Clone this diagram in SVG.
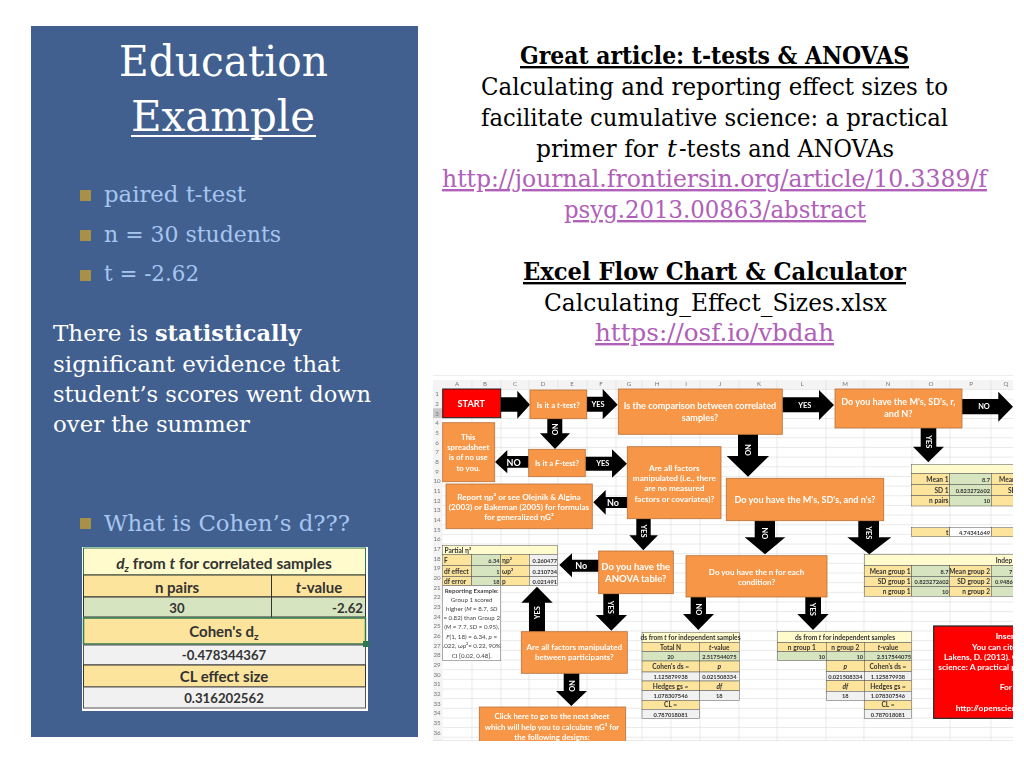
<svg xmlns="http://www.w3.org/2000/svg" width="1024" height="768" viewBox="0 0 1024 768">
<style>
.s{font-family:"DejaVu Serif","Liberation Serif",serif}
.l{font-family:Lato,"Liberation Sans",sans-serif}
.t1{font-size:43px;fill:#fff}
.b{font-size:23px;fill:#a6c6f0}
.w{font-size:23px;fill:#fff}
.k{font-size:24px;fill:#000}
.a{font-size:24px;fill:#b060b8;text-decoration:underline}
.bul{fill:#a99048}
.n{fill:#f79646;stroke:#b9703a;stroke-width:.8}
.nt{font-size:8.2px;font-weight:700;fill:#fff;text-anchor:middle}
.arr{fill:#000}
.al{font-size:7.4px;font-weight:700;fill:#fff;text-anchor:middle;dominant-baseline:central}
.al.big{font-size:9px}
.hd{font-size:6.2px;fill:#777;text-anchor:middle}
.y{fill:#fde49c;stroke:#555;stroke-width:.5}
.lt{fill:#fffbcc;stroke:#555;stroke-width:.5}
.g{fill:#d6e4bf;stroke:#555;stroke-width:.5}
.gr{fill:#f1f1f1;stroke:#555;stroke-width:.5}
.c{font-size:6.6px;font-weight:700;fill:#333;text-anchor:middle}
.cr{font-size:6.6px;font-weight:700;fill:#333;text-anchor:end}
.cl{font-size:6.6px;font-weight:700;fill:#333}
.d{font-size:5.7px}
.rp{font-size:6.2px;fill:#444;text-anchor:middle}
.rd{font-size:8.4px;font-weight:700;fill:#fff}
.y2{fill:#fde49c;stroke:#333;stroke-width:1}
.lt2{fill:#fffbcc;stroke:#2c7a4b;stroke-width:1}
.g2{fill:#d6e4bf;stroke:#333;stroke-width:1}
.gr2{fill:#f1f1f1;stroke:#555;stroke-width:1}
.ct{font-size:15px;font-weight:700;fill:#333;text-anchor:middle}
.ct.m{font-size:13.2px}
#n-start .nt{font-size:9.2px}
#n-ttest .nt,#n-ftest .nt,#n-nouse .nt{font-size:7.8px}
#n-correlated .nt,#n-msr .nt,#n-msn .nt{font-size:9.1px}
#n-anova .nt{font-size:9.5px}
#n-neach .nt,#n-between .nt{font-size:8px}
#n-next .nt{font-size:7.8px}
</style>
<defs>
<pattern id="rows" x="442" y="389" width="20" height="9.66" patternUnits="userSpaceOnUse"><rect width="20" height=".6" fill="#dcdcdc"/></pattern>
<clipPath id="shot"><rect x="433" y="375" width="580" height="366"/></clipPath>
<filter id="soft" x="0" y="0" width="1" height="1"><feGaussianBlur stdDeviation=".28"/></filter>
</defs>
<rect width="1024" height="768" fill="#fff"/>

<g id="panel">
<rect x="31" y="26" width="387" height="711" fill="#41608f"/>
<text class="s t1" x="119" y="76" textLength="209" lengthAdjust="spacingAndGlyphs">Education</text>
<text class="s t1" x="131" y="131" textLength="184" lengthAdjust="spacingAndGlyphs">Example</text>
<rect x="131" y="135" width="185" height="2" fill="#fff"/>
<rect class="bul" x="80" y="190" width="11" height="11"/><text class="s b" x="104" y="202" textLength="142" lengthAdjust="spacingAndGlyphs">paired t-test</text>
<rect class="bul" x="80" y="230" width="11" height="11"/><text class="s b" x="104" y="242" textLength="177" lengthAdjust="spacingAndGlyphs">n = 30 students</text>
<rect class="bul" x="80" y="270" width="11" height="11"/><text class="s b" x="104" y="281" textLength="95" lengthAdjust="spacingAndGlyphs">t = -2.62</text>
<text class="s w" x="53" y="341" textLength="95" lengthAdjust="spacingAndGlyphs">There is</text>
<text class="s w" x="155" y="341" font-weight="700" textLength="146" lengthAdjust="spacingAndGlyphs">statistically</text>
<text class="s w" x="53" y="372" textLength="287" lengthAdjust="spacingAndGlyphs">significant evidence that</text>
<text class="s w" x="53" y="402" textLength="318" lengthAdjust="spacingAndGlyphs">student’s scores went down</text>
<text class="s w" x="53" y="432" textLength="197" lengthAdjust="spacingAndGlyphs">over the summer</text>
<rect class="bul" x="80" y="518" width="11" height="11"/><text class="s b" x="104" y="531" textLength="246" lengthAdjust="spacingAndGlyphs">What is Cohen’s d???</text>
</g>

<g id="cohen-table">
<rect x="82" y="547" width="286" height="164" fill="#fff"/>
<rect class="lt2" x="83.5" y="548" width="282" height="27"/>
<rect class="y2" x="83.5" y="575" width="188" height="22"/><rect class="y2" x="271.5" y="575" width="94" height="22"/>
<rect class="g2" x="83.5" y="597" width="188" height="20"/><rect class="g2" x="271.5" y="597" width="94" height="20"/>
<rect x="83.5" y="618" width="282" height="26" fill="#fde49c" stroke="#2c7a4b" stroke-width="1.5"/>
<rect class="gr2" x="83.5" y="645" width="282" height="20"/>
<rect class="y2" x="83.5" y="665" width="282" height="22"/>
<rect class="gr2" x="83.5" y="687" width="282" height="21"/>
<rect x="363" y="641" width="6" height="6" fill="#2c7a4b"/>
<text class="l ct" x="224" y="569" style="font-size:15.500px"><tspan font-style="italic">d</tspan><tspan font-size="10" dy="3" font-style="italic">z</tspan><tspan dy="-3"> from </tspan><tspan font-style="italic">t</tspan> for correlated samples</text>
<text class="l ct" x="177" y="593">n pairs</text>
<text class="l ct" x="319" y="593"><tspan font-style="italic">t</tspan>-value</text>
<text class="l ct m" x="177" y="613">30</text>
<text class="l ct m" x="363" y="613" style="text-anchor:end">-2.62</text>
<text class="l ct" x="224" y="637">Cohen's d<tspan font-size="10" dy="3">z</tspan></text>
<text class="l ct m" x="224" y="660">-0.478344367</text>
<text class="l ct" x="224" y="682">CL effect size</text>
<text class="l ct m" x="224" y="703">0.316202562</text>
</g>

<g id="article-text">
<text class="s k" x="520" y="64" font-weight="700" textLength="389" lengthAdjust="spacingAndGlyphs" text-decoration="underline">Great article: t-tests &amp; ANOVAS</text>
<text class="s k" x="481" y="95" textLength="467" lengthAdjust="spacingAndGlyphs">Calculating and reporting effect sizes to</text>
<text class="s k" x="481" y="126" textLength="467" lengthAdjust="spacingAndGlyphs">facilitate cumulative science: a practical</text>
<text class="s k" x="536" y="157" textLength="122" lengthAdjust="spacingAndGlyphs">primer for</text>
<text class="s k" x="667" y="157" font-style="italic" textLength="10" lengthAdjust="spacingAndGlyphs">t</text>
<text class="s k" x="679" y="157" textLength="215" lengthAdjust="spacingAndGlyphs">-tests and ANOVAs</text>
<text class="s a" x="442" y="187" textLength="545" lengthAdjust="spacingAndGlyphs">http://journal.frontiersin.org/article/10.3389/f</text>
<text class="s a" x="564" y="218" textLength="302" lengthAdjust="spacingAndGlyphs">psyg.2013.00863/abstract</text>
<text class="s k" x="523" y="280" font-weight="700" textLength="383" lengthAdjust="spacingAndGlyphs" text-decoration="underline">Excel Flow Chart &amp; Calculator</text>
<text class="s k" x="544" y="311" textLength="343" lengthAdjust="spacingAndGlyphs">Calculating_Effect_Sizes.xlsx</text>
<text class="s a" x="595" y="341" textLength="239" lengthAdjust="spacingAndGlyphs">https://osf.io/vbdah</text>
</g>

<g id="flowchart-shot" clip-path="url(#shot)">
<g filter="url(#soft)">
<g id="sheet-grid">
<rect x="433" y="375" width="580" height="366" fill="#fff"/>
<rect x="433" y="380" width="580" height="9" fill="#f4f4f4"/>
<rect x="433" y="389" width="9.7" height="352" fill="#f4f4f4"/>
<rect x="433" y="408.3" width="9.7" height="9.7" fill="#c9c9c9"/>
<rect x="442.7" y="389" width="571" height="352" fill="url(#rows)"/>
<path d="M472 380V741M501 380V741M529 380V741M558 380V741M587 380V741M616 380V741M642 380V741M671 380V741M700 380V741M739 380V741M777 380V741M826 380V741M864 380V741M912 380V741M950 380V741M991 380V741" stroke="#dcdcdc" stroke-width=".6" fill="none"/>
<path d="M433 375H1013M433 741H1013" stroke="#cfcfcf" stroke-width=".8" fill="none"/>
<g class="l">
<text class="hd" x="457" y="386">A</text><text class="hd" x="485" y="386">B</text><text class="hd" x="515" y="386">C</text><text class="hd" x="543" y="386">D</text><text class="hd" x="572" y="386">E</text><text class="hd" x="601" y="386">F</text><text class="hd" x="629" y="386">G</text><text class="hd" x="657" y="386">H</text><text class="hd" x="686" y="386">I</text><text class="hd" x="720" y="386">J</text><text class="hd" x="759" y="386">K</text><text class="hd" x="802" y="386">L</text><text class="hd" x="845" y="386">M</text><text class="hd" x="888" y="386">N</text><text class="hd" x="931" y="386">O</text><text class="hd" x="971" y="386">P</text><text class="hd" x="1006" y="386">Q</text>
<text class="hd" x="437" y="396">1</text><text class="hd" x="437" y="406">2</text><text class="hd" x="437" y="415.500">3</text><text class="hd" x="437" y="425">4</text><text class="hd" x="437" y="435">5</text><text class="hd" x="437" y="444.500">6</text><text class="hd" x="437" y="454">7</text><text class="hd" x="437" y="464">8</text><text class="hd" x="437" y="473.500">9</text><text class="hd" x="437" y="483">10</text><text class="hd" x="437" y="493">11</text><text class="hd" x="437" y="502.500">12</text><text class="hd" x="437" y="512">13</text><text class="hd" x="437" y="522">14</text><text class="hd" x="437" y="531.500">15</text><text class="hd" x="437" y="541">16</text><text class="hd" x="437" y="551">17</text><text class="hd" x="437" y="560.500">18</text><text class="hd" x="437" y="570">19</text><text class="hd" x="437" y="580">20</text><text class="hd" x="437" y="589.500">21</text><text class="hd" x="437" y="599">22</text><text class="hd" x="437" y="609">23</text><text class="hd" x="437" y="618.500">24</text><text class="hd" x="437" y="628">25</text><text class="hd" x="437" y="638">26</text><text class="hd" x="437" y="647.500">27</text><text class="hd" x="437" y="657">28</text><text class="hd" x="437" y="667">29</text><text class="hd" x="437" y="676.500">30</text><text class="hd" x="437" y="686">31</text><text class="hd" x="437" y="696">32</text><text class="hd" x="437" y="705.500">33</text><text class="hd" x="437" y="715">34</text><text class="hd" x="437" y="725">35</text><text class="hd" x="437" y="734.500">36</text>
</g>
</g>

<g id="table-paired" class="l">
<rect class="lt" x="911.700" y="464.300" width="110" height="9.400"/>
<rect class="y" x="911.700" y="473.700" width="38" height="11"/><rect class="g" x="949.700" y="473.700" width="41.600" height="11"/><rect class="y" x="991.300" y="473.700" width="30" height="11"/>
<rect class="y" x="911.700" y="484.700" width="38" height="11"/><rect class="g" x="949.700" y="484.700" width="41.600" height="11"/><rect class="y" x="991.300" y="484.700" width="30" height="11"/>
<rect class="y" x="911.700" y="495.700" width="38" height="10.300"/><rect class="g" x="949.700" y="495.700" width="41.600" height="10.300"/><rect class="y" x="991.300" y="495.700" width="30" height="10.300"/>
<rect class="y" x="911.700" y="527.700" width="38" height="9"/><rect x="949.700" y="527.700" width="41.600" height="9" fill="#fff" stroke="#555" stroke-width=".5"/><rect class="y" x="991.300" y="527.700" width="30" height="9"/>
<text class="cr" x="948.500" y="481.500">Mean 1</text><text class="cr d" x="990" y="481.500">8.7</text><text class="cl" x="999" y="481.500">Mean</text>
<text class="cr" x="948.500" y="492.500">SD 1</text><text class="cr d" x="990" y="492.500">0.823272602</text><text class="cl" x="1008" y="492.500">SD</text>
<text class="cr" x="948.500" y="503">n pairs</text><text class="cr d" x="990" y="503">10</text>
<text class="cr" x="948.500" y="534.500">t</text><text class="cr d" x="990" y="534.500">4.74341649</text>
</g>

<g id="table-independent" class="l">
<rect class="lt" x="864.300" y="554.700" width="160" height="11"/>
<rect class="y" x="864.300" y="565.700" width="47.400" height="11"/><rect class="g" x="911.700" y="565.700" width="38" height="11"/><rect class="y" x="949.700" y="565.700" width="41.600" height="11"/><rect class="g" x="991.300" y="565.700" width="30" height="11"/>
<rect class="y" x="864.300" y="576.700" width="47.400" height="10"/><rect class="g" x="911.700" y="576.700" width="38" height="10"/><rect class="y" x="949.700" y="576.700" width="41.600" height="10"/><rect class="g" x="991.300" y="576.700" width="30" height="10"/>
<rect class="y" x="864.300" y="586.700" width="47.400" height="9.600"/><rect class="g" x="911.700" y="586.700" width="38" height="9.600"/><rect class="y" x="949.700" y="586.700" width="41.600" height="9.600"/><rect class="g" x="991.300" y="586.700" width="30" height="9.600"/>
<text class="cl" x="995.700" y="562.500">Indep</text>
<text class="cr" x="910.500" y="573.500">Mean group 1</text><text class="cr d" x="948.500" y="573.500">8.7</text><text class="cr" x="990" y="573.500">Mean group 2</text><text class="cl d" x="1009" y="573.500">7</text>
<text class="cr" x="910.500" y="584">SD group 1</text><text class="cr d" x="948.900" y="584">0.823272602</text><text class="cr" x="990" y="584">SD group 2</text><text class="cl d" x="995" y="584">0.9486</text>
<text class="cr" x="910.500" y="594">n group 1</text><text class="cr d" x="948.500" y="594">10</text><text class="cr" x="990" y="594">n group 2</text>
</g>

<g id="table-partial" class="l">
<rect class="lt" x="442.700" y="545.700" width="115" height="8.600"/>
<rect class="y" x="442.700" y="554.300" width="29" height="11.400"/><rect class="g" x="471.700" y="554.300" width="29" height="11.400"/><rect class="y" x="500.700" y="554.300" width="28.600" height="11.400"/><rect class="gr" x="529.300" y="554.300" width="28.400" height="11.400"/>
<rect class="y" x="442.700" y="565.700" width="29" height="11"/><rect class="g" x="471.700" y="565.700" width="29" height="11"/><rect class="y" x="500.700" y="565.700" width="28.600" height="11"/><rect class="gr" x="529.300" y="565.700" width="28.400" height="11"/>
<rect class="y" x="442.700" y="576.700" width="29" height="9"/><rect class="g" x="471.700" y="576.700" width="29" height="9"/><rect class="y" x="500.700" y="576.700" width="28.600" height="9"/><rect class="gr" x="529.300" y="576.700" width="28.400" height="9"/>
<rect x="442.700" y="585.700" width="58" height="75" fill="#fff" stroke="#777" stroke-width=".6"/>
<text class="cl" x="444.500" y="552.500">Partial η²</text>
<text class="cl" x="444" y="562.500">F</text><text class="cr d" x="499.500" y="562.500">6.34</text><text class="cl" x="502" y="562.500">ηp²</text><text class="cr d" x="557" y="562.500">0.260477</text>
<text class="cl" x="444" y="573.500">df effect</text><text class="cr d" x="499.500" y="573.500">1</text><text class="cl" x="502" y="573.500">ωp²</text><text class="cr d" x="557" y="573.500">0.210734</text>
<text class="cl" x="444" y="583.500">df error</text><text class="cr d" x="499.500" y="583.500">18</text><text class="cl" x="502" y="583.500">p</text><text class="cr d" x="557" y="583.500">0.021491</text>
<text class="rp" x="471.700" y="593" font-weight="700">Reporting Example:</text>
<text class="rp" x="471.700" y="602">Group 1 scored</text>
<text class="rp" x="471.700" y="611">higher (<tspan font-style="italic">M</tspan> = 8.7, <tspan font-style="italic">SD</tspan></text>
<text class="rp" x="471.700" y="620">= 0.82) than Group 2</text>
<text class="rp" x="471.700" y="629">(<tspan font-style="italic">M</tspan> = 7.7, <tspan font-style="italic">SD</tspan> = 0.95),</text>
<text class="rp" x="471.700" y="638.500"><tspan font-style="italic">F</tspan>(1, 18) = 6.34, <tspan font-style="italic">p</tspan> =</text>
<text class="rp" x="471.700" y="647.500">.022, ωp²= 0.22, 90%</text>
<text class="rp" x="471.700" y="657.500">CI [0.02, 0.48].</text>
</g>

<g id="table-ds-left" class="l">
<rect class="lt" x="642" y="632.300" width="97.300" height="10"/>
<rect class="y" x="642" y="642.300" width="57.300" height="9.400"/><rect class="y" x="699.300" y="642.300" width="40" height="9.400"/>
<rect class="g" x="642" y="651.700" width="57.300" height="9.300"/><rect class="g" x="699.300" y="651.700" width="40" height="9.300"/>
<rect class="y" x="642" y="661" width="57.300" height="11"/><rect class="y" x="699.300" y="661" width="40" height="11"/>
<rect class="gr" x="642" y="672" width="57.300" height="9"/><rect class="gr" x="699.300" y="672" width="40" height="9"/>
<rect class="y" x="642" y="681" width="57.300" height="9.700"/><rect class="y" x="699.300" y="681" width="40" height="9.700"/>
<rect class="gr" x="642" y="690.700" width="57.300" height="9.600"/><rect class="gr" x="699.300" y="690.700" width="40" height="9.600"/>
<rect class="y" x="642" y="700.300" width="57.300" height="9"/><rect class="gr" x="642" y="709.300" width="57.300" height="9.400"/>
<text class="c" x="690.500" y="639.500">ds from <tspan font-style="italic">t</tspan> for independent samples</text>
<text class="c" x="670.600" y="649.500">Total N</text><text class="c" x="719.300" y="649.500"><tspan font-style="italic">t</tspan>-value</text>
<text class="c d" x="670.600" y="658.800">20</text><text class="c d" x="719.300" y="658.800">2.517544075</text>
<text class="c" x="670.600" y="669">Cohen's ds =</text><text class="c" x="719.300" y="669" font-style="italic">p</text>
<text class="c d" x="670.600" y="679">1.125879938</text><text class="c d" x="719.300" y="679">0.021508334</text>
<text class="c" x="670.600" y="688.500">Hedges gs =</text><text class="c" x="719.300" y="688.500" font-style="italic">df</text>
<text class="c d" x="670.600" y="698">1.078307546</text><text class="c d" x="719.300" y="698">18</text>
<text class="c" x="670.600" y="707">CL =</text><text class="c d" x="670.600" y="716.500">0.787018081</text>
</g>

<g id="table-ds-right" class="l">
<rect class="lt" x="777.300" y="631.700" width="134.400" height="11"/>
<rect class="y" x="777.300" y="642.700" width="49" height="9"/><rect class="y" x="826.300" y="642.700" width="38" height="9"/><rect class="y" x="864.300" y="642.700" width="47.400" height="9"/>
<rect class="g" x="777.300" y="651.700" width="49" height="9"/><rect class="g" x="826.300" y="651.700" width="38" height="9"/><rect class="g" x="864.300" y="651.700" width="47.400" height="9"/>
<rect class="y" x="826.300" y="660.700" width="38" height="11"/><rect class="y" x="864.300" y="660.700" width="47.400" height="11"/>
<rect class="gr" x="826.300" y="671.700" width="38" height="9"/><rect class="gr" x="864.300" y="671.700" width="47.400" height="9"/>
<rect class="y" x="826.300" y="680.700" width="38" height="10.600"/><rect class="y" x="864.300" y="680.700" width="47.400" height="10.600"/>
<rect class="gr" x="826.300" y="691.300" width="38" height="9"/><rect class="gr" x="864.300" y="691.300" width="47.400" height="9"/>
<rect class="y" x="864.300" y="700.300" width="47.400" height="9"/><rect class="gr" x="864.300" y="709.300" width="47.400" height="9"/>
<text class="c" x="845" y="640">ds from <tspan font-style="italic">t</tspan> for independent samples</text>
<text class="c" x="801.800" y="650">n group 1</text><text class="c" x="845.300" y="650">n group 2</text><text class="c" x="888" y="650"><tspan font-style="italic">t</tspan>-value</text>
<text class="cr d" x="825" y="659">10</text><text class="cr d" x="863" y="659">10</text><text class="cr d" x="911" y="659">2.517544075</text>
<text class="c" x="845.300" y="669" font-style="italic">p</text><text class="c" x="888" y="669">Cohen's ds =</text>
<text class="c d" x="845.300" y="679">0.021508334</text><text class="c d" x="888" y="679">1.125879938</text>
<text class="c" x="845.300" y="688.500" font-style="italic">df</text><text class="c" x="888" y="688.500">Hedges gs =</text>
<text class="c d" x="845.300" y="698">18</text><text class="c d" x="888" y="698">1.078307546</text>
<text class="c" x="888" y="707">CL =</text><text class="c d" x="888" y="716.500">0.787018081</text>
</g>

<g id="connectors" class="l">
<polygon class="arr" points="500.700,397.300 517.300,397.300 517.300,390.700 530,404.700 517.300,418.700 517.300,411.700 500.700,411.700"/>
<polygon class="arr" points="586.700,396.700 602.700,396.700 602.700,389 617.700,404.700 602.700,419.300 602.700,411.700 586.700,411.700"/>
<text class="al" x="598" y="404.700">YES</text>
<polygon class="arr" points="547.300,418.700 562.300,418.700 562.300,433.300 570,433.300 555,449 540,433.300 547.300,433.300"/>
<text class="al" transform="translate(554 429.300) rotate(90)">NO</text>
<polygon class="arr" points="528.700,456 507.300,456 507.300,450 495,462 507.300,473.300 507.300,467.700 528.700,467.700"/>
<text class="al big" x="513.700" y="462">NO</text>
<polygon class="arr" points="585.300,456.700 612,456.700 612,449.300 627,463.700 612,477.700 612,470.700 585.300,470.700"/>
<text class="al" x="602.700" y="463.700">YES</text>
<polygon class="arr" points="627.300,497 605.700,497 605.700,490 593.300,502.300 605.700,514.700 605.700,508 627.300,508"/>
<text class="al big" x="613" y="502.300">No</text>
<polygon class="arr" points="636.300,518.700 650.700,518.700 650.700,535.300 658,535.300 643.300,550.300 629.300,535.300 636.300,535.300"/>
<text class="al" transform="translate(643.300 531) rotate(90)">YES</text>
<polygon class="arr" points="782.300,397.300 819,397.300 819,390 834,405 819,420 819,412.300 782.300,412.300"/>
<text class="al" x="804.700" y="405">YES</text>
<polygon class="arr" points="962,399 998.300,399 998.300,391.700 1013,406.700 998.300,421.700 998.300,414.300 962,414.300"/>
<text class="al" x="984" y="406.700">NO</text>
<polygon class="arr" points="920.700,428 936.300,428 936.300,446.700 944,446.700 928.300,462.300 913,446.700 920.700,446.700"/>
<text class="al" transform="translate(928.300 441.700) rotate(90)">YES</text>
<polygon class="arr" points="738,434.300 758,434.300 758,456 769,456 748,476.700 726.700,456 738,456"/>
<text class="al" transform="translate(747.300 450) rotate(90)">NO</text>
<polygon class="arr" points="754.700,520.700 775,520.700 775,537.300 785.300,537.300 765,554.300 744.700,537.300 754.700,537.300"/>
<text class="al" transform="translate(764 533.300) rotate(90)">NO</text>
<polygon class="arr" points="858.300,520.700 879,520.700 879,537.300 891.300,537.300 869.300,554.300 847.300,537.300 858.300,537.300"/>
<text class="al" transform="translate(868.300 532.700) rotate(90)">YES</text>
<polygon class="arr" points="598.700,559.700 572,559.700 572,553.300 559.300,565 572,577.300 572,571.700 598.700,571.700"/>
<text class="al big" x="581.300" y="565.300">No</text>
<polygon class="arr" points="529,631.700 529,602.700 521.300,602.700 537,586.700 552.700,602.700 545,602.700 545,631.700"/>
<text class="al" transform="translate(537 612.700) rotate(-90)">YES</text>
<polygon class="arr" points="603.300,593.700 619,593.700 619,615 627,615 611.300,630.700 595.700,615 603.300,615"/>
<text class="al" transform="translate(610.300 607.300) rotate(90)">YES</text>
<polygon class="arr" points="563.700,673.300 579.300,673.300 579.300,691 587,691 571.300,706 556,691 563.700,691"/>
<text class="al" transform="translate(571 686) rotate(90)">NO</text>
<polygon class="arr" points="690.700,597 706,597 706,614 714,614 698.300,630 683,614 690.700,614"/>
<text class="al" transform="translate(698.300 609.300) rotate(90)">NO</text>
<polygon class="arr" points="805.300,597 821,597 821,614 828.700,614 813,630 797.300,614 805.300,614"/>
<text class="al" transform="translate(812.300 609.300) rotate(90)">YES</text>
</g>

<g id="n-start" class="l"><rect x="442.700" y="389" width="58" height="28.700" fill="#f00" stroke="#222"/><text class="nt" x="471.300" y="406.500">START</text></g>
<g id="n-ttest" class="l"><rect class="n" x="530" y="390" width="56.700" height="28.700"/><text class="nt" x="558.300" y="407.500">Is it a <tspan font-style="italic">t</tspan>-test?</text></g>
<g id="n-correlated" class="l"><rect class="n" x="618.300" y="389" width="164" height="45.300"/><text class="nt" x="700" y="409">Is the comparison between correlated</text><text class="nt" x="700" y="421">samples?</text></g>
<g id="n-msr" class="l"><rect class="n" x="835" y="389" width="127" height="39"/><text class="nt" x="898.300" y="405">Do you have the M's, SD's, r,</text><text class="nt" x="898.300" y="417">and N?</text></g>
<g id="n-nouse" class="l"><rect class="n" x="442.700" y="422.700" width="52" height="59"/><text class="nt" x="468.300" y="439.500">This</text><text class="nt" x="468.300" y="450">spreadsheet</text><text class="nt" x="468.300" y="460">is of no use</text><text class="nt" x="468.300" y="470.500">to you.</text></g>
<g id="n-ftest" class="l"><rect class="n" x="528.700" y="449.300" width="56.600" height="27.400"/><text class="nt" x="557" y="466">Is it a <tspan font-style="italic">F</tspan>-test?</text></g>
<g id="n-factors" class="l"><rect class="n" x="627.300" y="446.700" width="93.700" height="72"/><text class="nt" x="674.300" y="470.500">Are all factors</text><text class="nt" x="674.300" y="481">manipulated (i.e., there</text><text class="nt" x="674.300" y="491">are no measured</text><text class="nt" x="674.300" y="501.500">factors or covariates)?</text></g>
<g id="n-report" class="l"><rect class="n" x="446" y="484" width="146.300" height="44.700"/><text class="nt" x="519" y="499.500">Report ηp² or see  Olejnik &amp; Algina</text><text class="nt" x="519" y="510">(2003) or Bakeman (2005) for formulas</text><text class="nt" x="519" y="520">for generalized ηG²</text></g>
<g id="n-msn" class="l"><rect class="n" x="726.300" y="478.300" width="157.400" height="42.400"/><text class="nt" x="805" y="502.500">Do you have the M's, SD's, and n's?</text></g>
<g id="n-anova" class="l"><rect class="n" x="598.700" y="551" width="74.600" height="42.700"/><text class="nt" x="635.700" y="569.500">Do you have the</text><text class="nt" x="635.700" y="581.500">ANOVA table?</text></g>
<g id="n-neach" class="l"><rect class="n" x="686" y="555.700" width="141" height="41.300"/><text class="nt" x="756.500" y="574.500">Do you have the n for each</text><text class="nt" x="756.500" y="585">condition?</text></g>
<g id="n-between" class="l"><rect class="n" x="521.300" y="631.700" width="106" height="41.600"/><text class="nt" x="574.300" y="650">Are all factors manipulated</text><text class="nt" x="574.300" y="660">between participants?</text></g>
<g id="n-next" class="l"><rect class="n" x="479.300" y="707" width="146.400" height="36"/><text class="nt" x="552" y="719">Click here to go to the next sheet</text><text class="nt" x="552" y="729.500">which will help you to calculate ηG² for</text><text class="nt" x="552" y="739.500">the following designs:</text></g>
<g id="n-insert" class="l"><rect x="933.700" y="626" width="90" height="92.300" fill="#f00" stroke="#222" stroke-width="1.200"/>
<text class="rd" x="995.700" y="639">Inser</text><text class="rd" x="972" y="649.500">You can cite</text><text class="rd" x="944" y="659.500">Lakens, D. (2013). C</text><text class="rd" x="938.300" y="670">science: A practical pr</text><text class="rd" x="999.700" y="690">For</text><text class="rd" x="955.700" y="710.500">http://openscien</text></g>
</g>
</g>
</svg>
